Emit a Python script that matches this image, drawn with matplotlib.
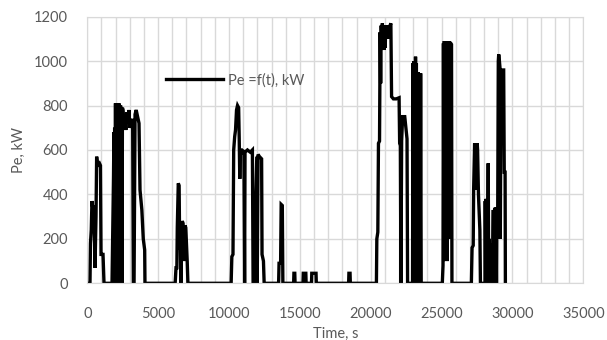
import matplotlib.pyplot as plt
from matplotlib.ticker import MultipleLocator

# engine power trace Pe(t), one list pair per duty block
t_block1 = [0, 190, 225, 280, 330, 400, 470, 545, 615, 660, 720, 860, 930, 970, 1110, 1180]
p_block1 = [0, 0, 180, 240, 370, 330, 350, 70, 300, 570, 530, 540, 530, 130, 130, 0]

t_block2 = [1745, 1780, 1850, 1880, 1900, 1930, 1960, 1990, 2020, 2050, 2080, 2110, 2140,
            2170, 2200, 2230, 2260, 2290, 2320, 2350, 2380, 2410, 2450, 2480, 2520, 2600,
            2660, 2720, 2800, 2870, 2940, 3000, 3100, 3200, 3250, 3300, 3370, 3450, 3550,
            3650, 3720, 3850, 3950, 4050, 4070]
p_block2 = [0, 150, 480, 680, 0, 700, 60, 810, 0, 750, 100, 800, 0,
            720, 50, 810, 0, 780, 100, 800, 20, 760, 0, 790, 780, 700,
            740, 690, 770, 720, 780, 700, 720, 740, 0, 0, 760, 780, 750,
            720, 420, 330, 200, 150, 0]

t_block3 = [6200, 6260, 6320, 6350, 6420, 6480, 6520, 6560, 6600, 6640, 6700, 6760, 6820,
            6900, 6950, 7050, 7100]
p_block3 = [0, 70, 70, 250, 450, 440, 150, 250, 0, 200, 280, 270, 100,
            260, 250, 100, 0]

t_block4 = [10150, 10200, 10280, 10330, 10400, 10460, 10530, 10600, 10680, 10720, 10760,
            10800, 10900, 11000, 11050, 11100, 11130, 11300, 11500, 11650, 11700, 11750,
            11960, 11990, 12050, 12150, 12300, 12330, 12430, 12480]
p_block4 = [0, 120, 130, 600, 660, 690, 780, 800, 790, 650, 470,
            600, 600, 590, 600, 0, 590, 600, 590, 600, 0, 0,
            570, 0, 580, 570, 560, 130, 100, 0]

t_block5 = [13500, 13530, 13640, 13680, 13760, 13800,
            14560, 14580, 14640, 14660, 15220, 15240, 15420, 15440,
            15820, 15840, 16140, 16160, 18440, 18460, 18540, 18560]
p_block5 = [0, 90, 90, 355, 350, 0,
            0, 45, 45, 0, 0, 45, 45, 0,
            0, 45, 45, 0, 0, 45, 45, 0]

t_block6 = [20400, 20430, 20500, 20545, 20620, 20665, 20700, 20740, 20780, 20820, 20860,
            20900, 20940, 20980, 21020, 21060, 21100, 21150, 21200, 21250, 21300, 21420,
            21470, 21600, 21800, 22000, 22040, 22090, 22130, 22180, 22250, 22400, 22480,
            22560, 22600]
p_block6 = [0, 200, 230, 630, 640, 1130, 900, 1160, 1050, 1170, 1080,
            1160, 1050, 1150, 1060, 1160, 1100, 1150, 1100, 1160, 1150, 1170,
            840, 830, 830, 835, 630, 620, 0, 640, 750, 750, 700,
            650, 0]

t_block7 = [22950, 22980, 23010, 23040, 23070, 23100, 23130, 23160, 23190, 23220, 23250,
            23280, 23310, 23340, 23370, 23400, 23430, 23460, 23490, 23520, 23560]
p_block7 = [0, 990, 50, 1000, 0, 980, 30, 1020, 0, 990, 60,
            950, 0, 950, 40, 945, 0, 940, 50, 945, 0]

t_block8 = [25050, 25100, 25130, 25160, 25190, 25220, 25250, 25280, 25310, 25340, 25370,
            25400, 25430, 25460, 25490, 25520, 25550, 25600, 25650, 25700, 25730]
p_block8 = [0, 80, 1080, 100, 1090, 150, 1090, 120, 1090, 200, 1090,
            100, 1085, 250, 1090, 200, 1085, 1080, 1080, 1075, 0]

t_block9 = [27100, 27150, 27230, 27260, 27330, 27360, 27390, 27420, 27450, 27480, 27510,
            27540, 27600, 27700, 27740,
            28060, 28080, 28110, 28140, 28170, 28200, 28240, 28290, 28320, 28360, 28400,
            28440, 28480, 28520, 28560, 28600, 28650, 28680, 28710, 28740, 28770, 28800,
            28830, 28870, 28900, 28960, 29000, 29030, 29080, 29120, 29140, 29200, 29300,
            29380, 29420, 29480, 29500]
p_block9 = [0, 160, 170, 420, 630, 420, 630, 430, 630, 420, 630,
            600, 400, 240, 0,
            0, 370, 20, 380, 30, 360, 0, 540, 20, 200, 0,
            150, 0, 180, 0, 100, 330, 0, 330, 20, 340, 30,
            340, 0, 330, 340, 1000, 1030, 1000, 970, 200, 960, 960,
            960, 500, 500, 0]

time_s = (t_block1 + t_block2 + t_block3 + t_block4 + t_block5
          + t_block6 + t_block7 + t_block8 + t_block9)
power_kw = (p_block1 + p_block2 + p_block3 + p_block4 + p_block5
            + p_block6 + p_block7 + p_block8 + p_block9)

grey = '#595959'
plt.rcParams['font.family'] = ['Lato', 'DejaVu Sans']

fig = plt.figure(figsize=(6.07, 3.4), dpi=100)
ax = fig.add_axes([0.1438, 0.1668, 0.8172, 0.7842])

ax.plot(time_s, power_kw, color='black', linewidth=2.4, label='Pe =f(t), kW',
        solid_joinstyle='miter')

ax.set_xlim(0, 35000)
ax.set_ylim(0, 1200)
ax.xaxis.set_major_locator(MultipleLocator(5000))
ax.xaxis.set_minor_locator(MultipleLocator(1000))
ax.yaxis.set_major_locator(MultipleLocator(200))
ax.grid(axis='y', which='major', color='#d9d9d9', linewidth=1)
ax.grid(axis='x', which='both', color='#d9d9d9', linewidth=1)
ax.set_axisbelow(True)
for s in ax.spines.values():
    s.set_color('#d9d9d9')
ax.tick_params(which='both', length=0, labelsize=10.5, labelcolor=grey)
ax.tick_params(axis='x', pad=17)
ax.tick_params(axis='y', pad=14)

ax.set_xlabel('Time, s', fontsize=10.5, color=grey, labelpad=4)
ax.set_ylabel('Pe, kW', fontsize=10.5, color=grey, labelpad=6)

leg = ax.legend(loc='center left', bbox_to_anchor=(0.159, 0.762), frameon=False,
                fontsize=10.5, handlelength=3.9, handletextpad=0.35,
                borderpad=0, borderaxespad=0)
for txt in leg.get_texts():
    txt.set_color(grey)

fig.savefig('out.png', dpi=100)
